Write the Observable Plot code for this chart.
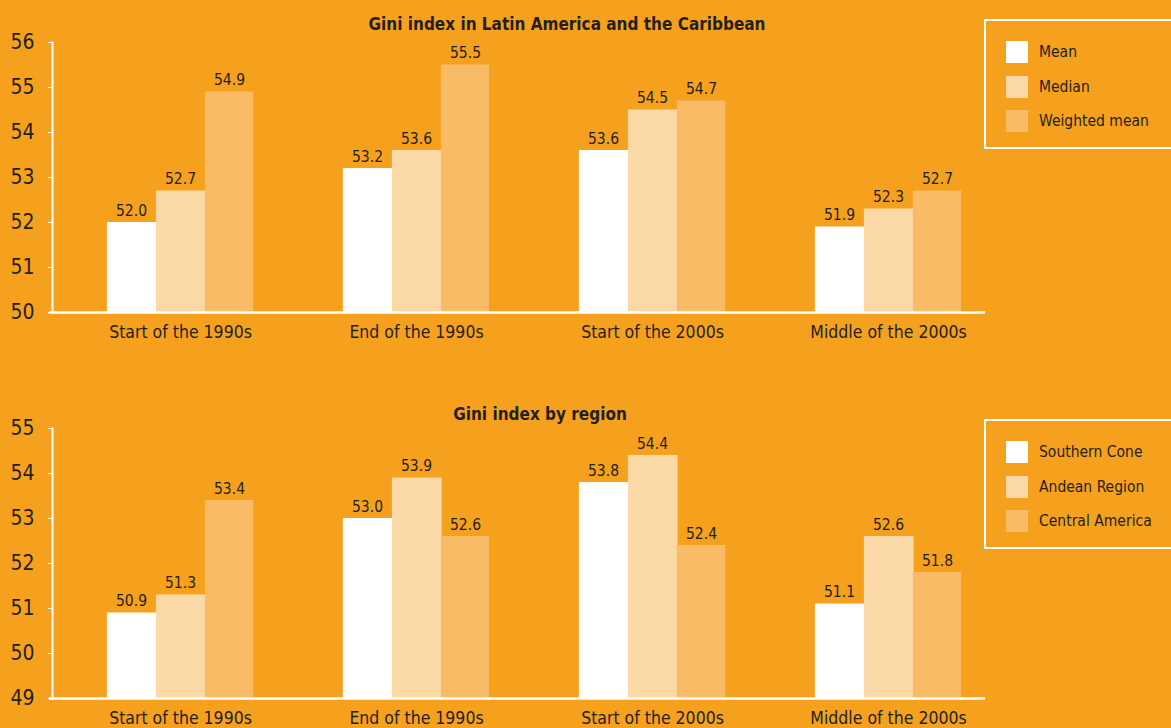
<!DOCTYPE html>
<html>
<head>
<meta charset="utf-8">
<script src="https://cdn.jsdelivr.net/npm/d3@7"></script>
<script src="https://cdn.jsdelivr.net/npm/@observablehq/plot@0.6"></script>
<style>
  html, body { margin:0; padding:0; background:#f6a11e; }
  #wrap { position:relative; width:1171px; height:728px; overflow:hidden; background:#f6a11e;
          font-family:"Liberation Sans Narrow","DejaVu Sans Condensed","Liberation Sans",sans-serif; color:#231f20; }
  .panel { position:absolute; left:0; }
  .title { position:absolute; font-weight:bold; font-size:17px; line-height:17px; white-space:nowrap; transform:translateX(-50%); }
  .legend { position:absolute; left:984px; width:220px; border:2px solid #fff; box-sizing:border-box; }
  .item { position:absolute; left:20px; display:flex; align-items:center; height:22px; font-size:15.5px; white-space:nowrap; }
  .sw { width:22px; height:22px; margin-right:11px; flex:none; }
</style>
</head>
<body>
<div id="wrap"></div>
<script>
// ---- data ----
const periods = ["Start of the 1990s", "End of the 1990s", "Start of the 2000s", "Middle of the 2000s"];

const topTitle = "Gini index in Latin America and the Caribbean";
const topSeries = ["Mean", "Median", "Weighted mean"];
const meanValues = [52.0, 53.2, 53.6, 51.9];
const medianValues = [52.7, 53.6, 54.5, 52.3];
const weightedMeanValues = [54.9, 55.5, 54.7, 52.7];
const topTicks = [50, 51, 52, 53, 54, 55, 56];

const bottomTitle = "Gini index by region";
const bottomSeries = ["Southern Cone", "Andean Region", "Central America"];
const southernConeValues = [50.9, 53.0, 53.8, 51.1];
const andeanRegionValues = [51.3, 53.9, 54.4, 52.6];
const centralAmericaValues = [53.4, 52.6, 52.4, 51.8];
const bottomTicks = [49, 50, 51, 52, 53, 54, 55];

const seriesColors = ["#ffffff", "#fbd9a6", "#fabb66"];
const FONT = '"Liberation Sans Narrow","DejaVu Sans Condensed","Liberation Sans",sans-serif';

const wrap = document.getElementById("wrap");

function panel({series, valueLists, ticks, top, height, marginTop, marginBottom}) {
  const yDomain = [ticks[0], ticks[ticks.length - 1]];
  const marks = [];
  const barW = 49, pad = 44.9;
  series.forEach((s, i) => {
    const rows = periods.map((p, j) => ({period: p, series: s, value: valueLists[i][j]}));
    marks.push(Plot.barY(rows, {
      x: "period", y1: yDomain[0], y2: "value", fill: seriesColors[i],
      insetLeft: pad + barW * i, insetRight: pad + barW * (2 - i) - (i < 2 ? 1.5 : 0)
    }));
    marks.push(Plot.text(rows, {
      x: "period", y: "value", text: d => d.value.toFixed(1),
      dx: (i - 1) * barW, dy: -7, lineAnchor: "bottom", fontSize: 15.5, fill: "#231f20"
    }));
  });
  marks.push(Plot.ruleY([yDomain[0]], {stroke: "white", strokeWidth: 2.5, insetLeft: -3}));
  marks.push(Plot.frame({anchor: "left", stroke: "white", strokeWidth: 2}));
  marks.push(Plot.axisY({ticks, tickSize: 4, tickPadding: 14, stroke: "white", fill: "#231f20",
                         fontSize: 21, tickFormat: d => String(d), label: null}));
  marks.push(Plot.axisX({tickSize: 0, tickPadding: 13, fontSize: 17.5, fill: "#231f20", label: null}));
  const svg = Plot.plot({
    width: 1171, height, marginLeft: 52, marginRight: 186, marginTop, marginBottom,
    style: {background: "transparent", color: "#231f20", fontFamily: FONT, overflow: "visible"},
    x: {domain: periods, range: [60, 1007], padding: 0, axis: null},
    y: {domain: yDomain, axis: null},
    marks
  });
  svg.classList.add("panel");
  svg.style.top = top + "px";
  wrap.appendChild(svg);
}

function title(text, cx, top) {
  const d = document.createElement("div");
  d.className = "title";
  d.textContent = text;
  d.style.left = cx + "px";
  d.style.top = top + "px";
  wrap.appendChild(d);
}

function legend(series, top) {
  const box = document.createElement("div");
  box.className = "legend";
  box.style.top = top + "px";
  box.style.height = "130px";
  series.forEach((s, i) => {
    const it = document.createElement("div");
    it.className = "item";
    it.style.top = (20 + i * 34.5) + "px";
    const sw = document.createElement("div");
    sw.className = "sw";
    sw.style.background = seriesColors[i];
    const lab = document.createElement("span");
    lab.textContent = s;
    it.appendChild(sw); it.appendChild(lab);
    box.appendChild(it);
  });
  wrap.appendChild(box);
}

panel({series: topSeries, valueLists: [meanValues, medianValues, weightedMeanValues],
       ticks: topTicks, top: 0, height: 370, marginTop: 42, marginBottom: 58});
panel({series: bottomSeries, valueLists: [southernConeValues, andeanRegionValues, centralAmericaValues],
       ticks: bottomTicks, top: 386, height: 342, marginTop: 42, marginBottom: 30});
title(topTitle, 567, 16);
title(bottomTitle, 540, 406);
legend(topSeries, 19);
legend(bottomSeries, 419);
</script>
</body>
</html>
